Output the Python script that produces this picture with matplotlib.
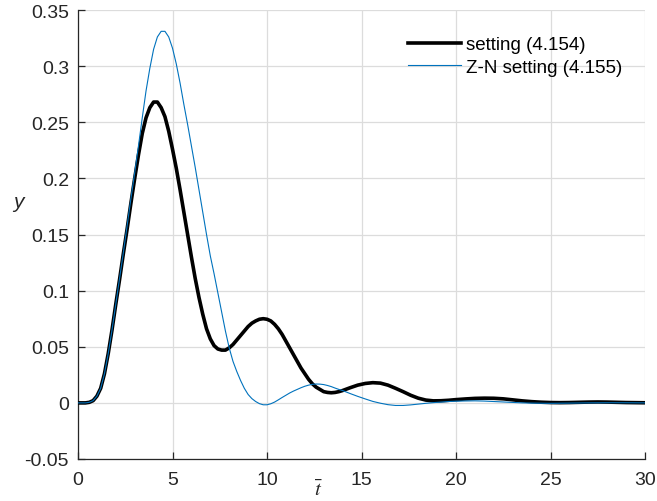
import matplotlib
matplotlib.use("Agg")
import matplotlib.pyplot as plt

# Values
t_black = [0.0, 0.2, 0.4, 0.6, 0.8, 1.0, 1.2, 1.4, 1.6, 1.8, 2.0, 2.2, 2.4, 2.6, 2.8,
           3.0, 3.2, 3.4, 3.6, 3.8, 4.0, 4.2, 4.4, 4.6, 4.8, 5.0, 5.2, 5.4, 5.6, 5.8,
           6.0, 6.2, 6.4, 6.6, 6.8, 7.0, 7.2, 7.4, 7.6, 7.8, 8.0, 8.2, 8.4, 8.6, 8.8,
           9.0, 9.2, 9.4, 9.6, 9.8, 10.0, 10.2, 10.4, 10.6, 10.8, 11.0, 11.2, 11.4,
           11.6, 11.8, 12.0, 12.2, 12.4, 12.6, 12.8, 13.0, 13.2, 13.4, 13.6, 13.8,
           14.0, 14.4, 14.8, 15.2, 15.6, 16.0, 16.4, 16.8, 17.2, 17.6, 18.0, 18.4,
           18.8, 19.2, 19.6, 20.0, 20.5, 21.0, 21.5, 22.0, 22.5, 23.0, 23.5, 24.0,
           24.5, 25.0, 25.5, 26.0, 26.5, 27.0, 27.5, 28.0, 28.5, 29.0, 29.5, 30.0]
y_black = [0.0, 0.0, 0.0, 0.0005, 0.002, 0.006, 0.013, 0.026, 0.044, 0.065, 0.088,
           0.110, 0.133, 0.155, 0.178, 0.200, 0.221, 0.240, 0.254, 0.263, 0.268,
           0.268, 0.263, 0.255, 0.242, 0.226, 0.209, 0.190, 0.170, 0.150, 0.130,
           0.111, 0.094, 0.079, 0.066, 0.057, 0.051, 0.048, 0.047, 0.047, 0.049,
           0.052, 0.056, 0.060, 0.064, 0.068, 0.071, 0.073, 0.0745, 0.075, 0.0745,
           0.073, 0.070, 0.066, 0.061, 0.055, 0.049, 0.043, 0.037, 0.031, 0.026,
           0.021, 0.017, 0.014, 0.012, 0.010, 0.0093, 0.009, 0.0093, 0.010, 0.011,
           0.0135, 0.0158, 0.0173, 0.018, 0.0176, 0.0158, 0.013, 0.010, 0.0068,
           0.0042, 0.0025, 0.0018, 0.0019, 0.0023, 0.0029, 0.0035, 0.004, 0.0042,
           0.0041, 0.0036, 0.0027, 0.0018, 0.0011, 0.0006, 0.0003, 0.0002, 0.0003,
           0.0005, 0.0007, 0.0008, 0.0007, 0.0005, 0.0003, 0.0002, 0.0001]

t_blue = [0.0, 0.2, 0.4, 0.6, 0.8, 1.0, 1.2, 1.4, 1.6, 1.8, 2.0, 2.2, 2.4, 2.6, 2.8,
          3.0, 3.2, 3.4, 3.6, 3.8, 4.0, 4.2, 4.4, 4.6, 4.8, 5.0, 5.2, 5.4, 5.6, 5.8,
          6.0, 6.2, 6.4, 6.6, 6.8, 7.0, 7.2, 7.4, 7.6, 7.8, 8.0, 8.2, 8.4, 8.6, 8.8,
          9.0, 9.2, 9.4, 9.6, 9.8, 10.0, 10.2, 10.4, 10.6, 10.8, 11.0, 11.2, 11.4,
          11.6, 11.8, 12.0, 12.2, 12.4, 12.6, 12.8, 13.0, 13.2, 13.4, 13.6, 13.8,
          14.0, 14.4, 14.8, 15.2, 15.6, 16.0, 16.4, 16.8, 17.2, 17.6, 18.0, 18.4,
          18.8, 19.2, 19.6, 20.0, 20.5, 21.0, 21.5, 22.0, 22.5, 23.0, 23.5, 24.0,
          25.0, 26.0, 27.0, 28.0, 29.0, 30.0]
y_blue = [0.0, 0.0, 0.0, 0.0005, 0.002, 0.006, 0.013, 0.026, 0.044, 0.065, 0.088,
          0.111, 0.134, 0.158, 0.182, 0.205, 0.229, 0.254, 0.278, 0.298, 0.315,
          0.326, 0.331, 0.331, 0.326, 0.316, 0.302, 0.285, 0.266, 0.248, 0.229,
          0.210, 0.190, 0.170, 0.150, 0.131, 0.115, 0.098, 0.081, 0.064, 0.049,
          0.037, 0.028, 0.020, 0.013, 0.0075, 0.0038, 0.0012, -0.0007, -0.0017,
          -0.0017, -0.0008, 0.0007, 0.0027, 0.0048, 0.0068, 0.0088, 0.0105, 0.012,
          0.0135, 0.0148, 0.0158, 0.0165, 0.0168, 0.0167, 0.0163, 0.0155, 0.0145,
          0.0132, 0.012, 0.011, 0.0083, 0.0058, 0.0035, 0.0013, -0.0003, -0.0016,
          -0.0023, -0.0023, -0.0018, -0.0011, -0.0004, 0.0002, 0.0007, 0.0012,
          0.0015, 0.0017, 0.0018, 0.0016, 0.0012, 0.0008, 0.0004, 0.0, -0.0002,
          -0.0004, -0.0002, 0.0, 0.0001, 0.0001, 0.0]

x_ticks = [0, 5, 10, 15, 20, 25, 30]
y_ticks = [-0.05, 0, 0.05, 0.1, 0.15, 0.2, 0.25, 0.3, 0.35]
y_tick_labels = ["-0.05", "0", "0.05", "0.1", "0.15", "0.2", "0.25", "0.3", "0.35"]
labels = ["setting (4.154)", "Z-N setting (4.155)"]

plt.rcParams['font.family'] = ['Liberation Sans', 'DejaVu Sans']
plt.rcParams['mathtext.fontset'] = 'stix'

fig = plt.figure(figsize=(6.57, 5.02), dpi=100)
ax = fig.add_axes([78/657, 1 - 460/502, (645 - 78)/657, (460 - 11)/502])

ax.plot(t_black, y_black, color='black', lw=2.6, label=labels[0], zorder=3,
        solid_joinstyle='round')
ax.plot(t_blue, y_blue, color='#0072BD', lw=0.8, label=labels[1], zorder=4,
        solid_joinstyle='round')

ax.set_xlim(0, 30)
ax.set_ylim(-0.05, 0.35)
ax.set_xticks(x_ticks)
ax.set_xticklabels([str(v) for v in x_ticks])
ax.set_yticks(y_ticks)
ax.set_yticklabels(y_tick_labels)

ax.grid(True, color='#dcdcdc', lw=0.9)
ax.set_axisbelow(True)
for s in ['top', 'right']:
    ax.spines[s].set_visible(False)
for s in ['left', 'bottom']:
    ax.spines[s].set_color('#262626')
    ax.spines[s].set_linewidth(0.9)
ax.tick_params(direction='in', length=5, width=0.9, color='#262626',
               labelsize=14, labelcolor='#262626')
ax.tick_params(axis='x', pad=8.5)
ax.tick_params(axis='y', pad=6.5)

ax.set_xlabel(r'$\bar{t}$', fontsize=15, color='#262626')
ax.xaxis.set_label_coords((318 - 78)/567, -(480 - 460)/449)
ax.set_ylabel('y', fontsize=15, color='#262626', rotation=0, fontstyle='italic',
              va='center', ha='center')
ax.yaxis.set_label_coords((18 - 78)/567, (460 - 203)/449)

leg = ax.legend(loc='upper left', bbox_to_anchor=((408 - 78)/567, (460 - 37)/449),
                frameon=False, fontsize=13.5, handlelength=2.8, handletextpad=0.32,
                labelspacing=0.3, borderaxespad=0.0, borderpad=0.0)

fig.savefig('out.png', dpi=100)
